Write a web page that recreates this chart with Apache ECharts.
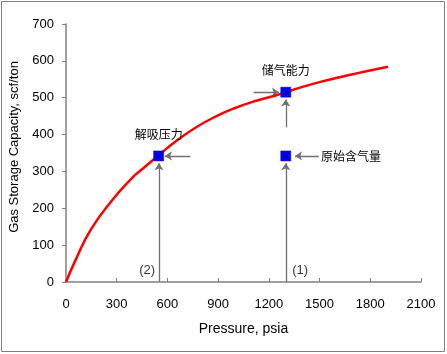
<!DOCTYPE html>
<html>
<head>
<meta charset="utf-8">
<script src="https://cdn.jsdelivr.net/npm/echarts@6/dist/echarts.min.js"></script>
<style>
  html, body { margin: 0; padding: 0; background: #fff; }
  #chart { width: 447px; height: 354px; }
</style>
</head>
<body>
<div id="chart"></div>
<script>
// curve
const pressure = [0, 57, 145, 273, 390, 450, 543, 650, 770, 890, 1000, 1120, 1240, 1300, 1390, 1505, 1625, 1740, 1820, 1905];
const capacity = [0, 60, 141, 222, 282, 306, 342, 382, 420, 450, 472, 491, 506, 515, 528, 543, 556, 568, 576, 584];

// marked points: desorption pressure, storage capacity, original gas content
const pointNames = ["解吸压力", "储气能力", "原始含气量"];
const pointX = [548, 1300, 1300];
const pointY = [342, 515, 342];

// arrows [x1, y1, x2, y2] in data units
const arrows = [
  [550, 0, 550, 322],
  [1300, 0, 1300, 322],
  [1300, 420, 1300, 495],
  [735, 342, 585, 342],
  [1495, 342, 1355, 342],
  [1110, 515, 1260, 515]
];

// (1)/(2) labels near the axis
const tagText = ["(2)", "(1)"];
const tagX = [480, 1385];
const tagY = [32, 32];

const xTicks = [0, 300, 600, 900, 1200, 1500, 1800, 2100];
const yTicks = [0, 100, 200, 300, 400, 500, 600, 700];

const chart = echarts.init(document.getElementById("chart"));
const axisColor = "#808080";
const font = "Liberation Sans, Arial, sans-serif";
const cjk = "Noto Sans CJK SC, sans-serif";

const option = {
  animation: false,
  textStyle: { fontFamily: font },
  graphic: [
    {
      type: "rect",
      shape: { x: 1.5, y: 1.5, width: 443, height: 350 },
      style: { fill: "none", stroke: axisColor, lineWidth: 1 }
    }
  ],
  grid: { left: 64, right: 26, top: 24, bottom: 72 },
  xAxis: {
    type: "value",
    min: xTicks[0],
    max: xTicks[xTicks.length - 1],
    interval: 300,
    name: "Pressure, psia",
    nameLocation: "middle",
    nameGap: 40,
    nameTextStyle: { fontSize: 14, color: "#000", fontFamily: font },
    axisLine: { show: true, lineStyle: { color: axisColor, width: 1.5 } },
    axisTick: { show: true, inside: true, length: 4, lineStyle: { color: axisColor } },
    axisLabel: { margin: 16, fontSize: 13, color: "#000", fontFamily: font, formatter: v => String(v) },
    splitLine: { show: false }
  },
  yAxis: {
    type: "value",
    min: yTicks[0],
    max: yTicks[yTicks.length - 1],
    interval: 100,
    name: "Gas Storage Capacity, scf/ton",
    nameLocation: "middle",
    nameGap: 45,
    nameTextStyle: { fontSize: 13, color: "#000", fontFamily: font, padding: [0, 0, 0, 12] },
    axisLine: { show: true, lineStyle: { color: axisColor, width: 1.5 } },
    axisTick: { show: true, length: 4, lineStyle: { color: axisColor } },
    axisLabel: { margin: 12, fontSize: 13, color: "#000", fontFamily: font, formatter: v => String(v) },
    splitLine: { show: false }
  },
  series: [
    {
      type: "line",
      data: pressure.map((p, i) => [p, capacity[i]]),
      showSymbol: false,
      smooth: 0.5,
      lineStyle: { color: "#ff0000", width: 2.5 },
      z: 2
    },
    {
      type: "lines",
      coordinateSystem: "cartesian2d",
      symbol: ["none", "arrow"],
      symbolSize: 7,
      lineStyle: { color: "#707070", width: 1.3, opacity: 1 },
      data: arrows.map(a => ({ coords: [[a[0], a[1]], [a[2], a[3]]] })),
      z: 1
    },
    {
      type: "scatter",
      symbol: "rect",
      symbolSize: 10,
      itemStyle: { color: "#0000ff", borderColor: "#000080", borderWidth: 0.5, opacity: 1 },
      data: pointX.map((x, i) => ({
        value: [x, pointY[i]],
        label: {
          show: true,
          formatter: pointNames[i],
          position: i === 2 ? "right" : "top",
          distance: i === 2 ? 30 : 10,
          fontSize: 12,
          color: "#000",
          fontFamily: cjk
        }
      })),
      z: 3
    },
    {
      type: "scatter",
      symbol: "path://M0,0L10,10M10,0L0,10",
      symbolSize: 5,
      itemStyle: { color: "none", borderColor: "#000", borderWidth: 0.8 },
      data: pointX.map((x, i) => [x, pointY[i]]),
      silent: true,
      z: 4
    },
    {
      type: "scatter",
      symbolSize: 0,
      data: tagX.map((x, i) => ({
        value: [x, tagY[i]],
        label: { show: true, formatter: tagText[i], position: "inside", fontSize: 13, color: "#000", fontFamily: font }
      })),
      silent: true,
      z: 3
    }
  ]
};
chart.setOption(option);
</script>
</body>
</html>
